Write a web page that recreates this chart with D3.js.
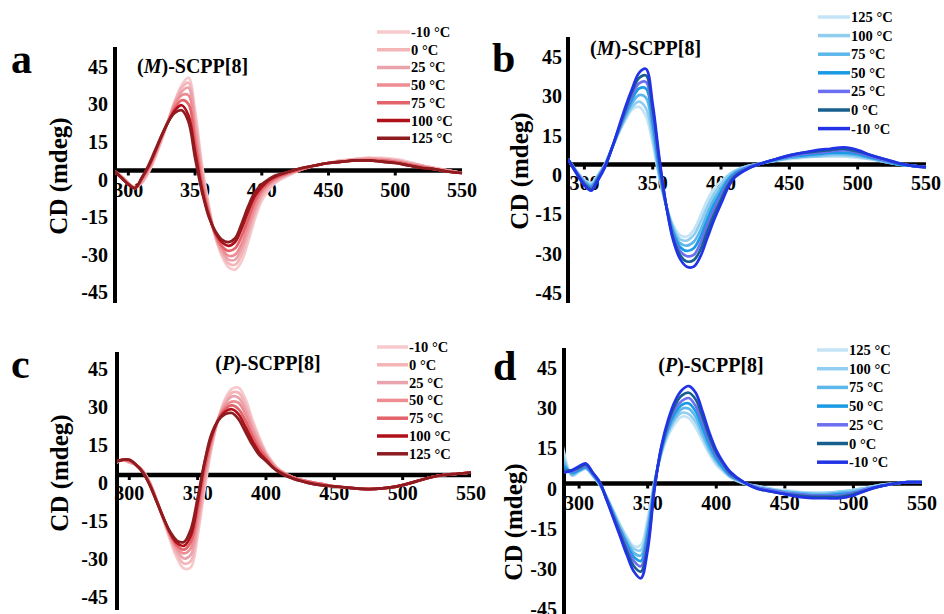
<!DOCTYPE html>
<html>
<head>
<meta charset="utf-8">
<script src="https://cdn.jsdelivr.net/npm/d3@7"></script>
<style>
  html, body { margin: 0; padding: 0; background: #fff; }
  svg { display: block; }
  text { font-family: "Liberation Serif", "Times New Roman", Times, "DejaVu Serif", serif; font-weight: bold; fill: #000; }
</style>
</head>
<body>
<svg id="fig" width="944" height="614"></svg>
<script>
// Wavelength grid (nm) shared by every spectrum
const wavelengths = [288, 295, 300, 305, 310, 315, 320, 325, 330, 335, 340, 345, 350, 355, 360, 365, 370, 375, 380, 385, 390, 395, 400, 405, 410, 420, 430, 440, 450, 460, 470, 480, 490, 500, 510, 520, 530, 540, 550];

const xTicks = [300, 350, 400, 450, 500, 550];
const yTicks = [45, 30, 15, 0, -15, -30, -45];

// Temperatures in legend order
const tempsUp = ["-10 °C", "0 °C", "25 °C", "50 °C", "75 °C", "100 °C", "125 °C"];
const tempsDown = ["125 °C", "100 °C", "75 °C", "50 °C", "25 °C", "0 °C", "-10 °C"];

const redColors = ["#f7c9cc", "#f4b5b8", "#e9a3ad", "#ee8c91", "#e3636a", "#b0101a", "#8c1c1f"];
const blueColors = ["#c4e4f6", "#90cdf0", "#5cb7ea", "#1a9ae4", "#6c6ff0", "#175f8e", "#2233e6"];

// (M)-SCPP[8], red set (CD in mdeg)
const a_neg10 = [0, -2.5, -5, -6.5, -5, -1, 5, 12, 20, 28, 34, 37, 24, 3, -13, -26, -34, -38.5, -39.5, -36, -28, -19, -12, -8, -5, -2, 0.5, 2, 3, 4, 4.5, 5, 5, 4.5, 3.5, 2, 1, 0, -1];
const a_0 = [0, -2.5, -5, -7, -5, -0.5, 5.5, 12.5, 20, 27.5, 33, 35, 21.5, 1, -14, -26, -33, -37, -37.5, -33.5, -25.5, -17, -10.5, -7, -4.5, -1.5, 0.5, 2, 3, 4, 4.5, 5, 4.5, 4, 3, 2, 1, 0, -1];
const a_25 = [0, -2.5, -5, -7, -4.5, 0, 6, 13, 20, 27, 31.5, 33, 18.5, -1, -15, -25.5, -32, -35.5, -35.5, -31, -23.5, -15.5, -9.5, -6, -4, -1.5, 0.5, 2, 3, 3.5, 4.5, 4.5, 4.5, 4, 3, 2, 0.5, 0, -1];
const a_50 = [0.5, -2.5, -5, -7, -4, 0.5, 6.5, 13.5, 20, 26.5, 30, 30, 15.5, -3, -16, -25.5, -31, -34, -33.5, -29, -21.5, -14, -8.5, -5.5, -3.5, -1, 0.5, 2, 3, 3.5, 4, 4.5, 4, 3.5, 2.5, 1.5, 0.5, 0, -1];
const a_75 = [0.5, -3, -5.5, -7, -3.5, 1, 7, 13.5, 19.5, 25, 28, 26.5, 11.5, -5, -16.5, -25, -30, -32, -31, -26, -19, -12, -7.5, -5, -3, -1, 0.5, 2, 3, 3.5, 4, 4, 4, 3.5, 2.5, 1.5, 0.5, -0.5, -1];
const a_100 = [0.5, -3, -5.5, -7, -3, 1.5, 7.5, 14, 19.5, 24, 26, 22, 7.5, -7, -17.5, -24.5, -28.5, -30, -28.5, -23, -16, -10, -6.5, -4, -2.5, -0.5, 1, 2, 3, 3.5, 4, 4, 3.5, 3, 2, 1, 0.5, -0.5, -1];
const a_125 = [0.5, -3, -5.5, -7, -3, 2, 8, 14, 19.5, 23, 24, 19.5, 5, -8, -18, -24, -27.5, -28.5, -27, -21, -14, -8.5, -5.5, -3.5, -2, -0.5, 1, 2, 3, 3.5, 4, 4, 3.5, 3, 2, 1, 0.5, -0.5, -1];

// (M)-SCPP[8], blue set
const b_neg10 = [2, -4, -8, -10, -6, -1, 6, 14, 22, 29, 35, 36.5, 23, 2, -16, -29, -36, -39, -39, -35, -28, -21, -15, -9, -5, -1.5, 0.5, 2, 3.5, 4.5, 5.5, 6, 6.5, 5.5, 3.5, 2, 0.5, -0.5, -1];
const b_0 = [2, -4, -7.5, -9.5, -5.5, -1, 6, 13.5, 21, 28, 33, 34, 21, 0.5, -16, -28, -34.5, -37, -36.5, -32.5, -25.5, -19, -13.5, -8, -4.5, -1.5, 0.5, 2, 3.5, 4.5, 5, 5.5, 6, 5, 3.5, 2, 0.5, -0.5, -1];
const b_25 = [2, -3.5, -7, -9, -5, -0.5, 6, 13, 20, 26.5, 31, 31.5, 18.5, -1, -16, -27, -33, -35, -34.5, -30, -23, -17, -12, -7, -4, -1, 0.5, 2, 3, 4, 4.5, 5, 5.5, 4.5, 3, 1.5, 0.5, -0.5, -1];
const b_50 = [2, -3.5, -7, -8.5, -5, -0.5, 6, 13, 19.5, 25, 29, 29, 16, -2.5, -16, -26, -31.5, -33, -32, -27.5, -21, -15, -10.5, -6, -3.5, -1, 0.5, 2, 3, 3.5, 4, 4.5, 4.5, 4, 2.5, 1.5, 0, -0.5, -1];
const b_75 = [2, -3.5, -6.5, -8, -4.5, 0, 6, 12.5, 18.5, 23.5, 26.5, 25.5, 13, -4, -16, -25, -30, -31, -29.5, -25, -18.5, -13, -9, -5.5, -3, -1, 0.5, 1.5, 2.5, 3, 3.5, 4, 4, 3.5, 2.5, 1, 0, -0.5, -1];
const b_100 = [2, -3, -6, -7.5, -4, 0, 6, 12, 17.5, 22, 24, 21.5, 10, -5, -16, -24, -28.5, -29, -27, -22, -16, -11, -7.5, -4.5, -2.5, -0.5, 0.5, 1.5, 2.5, 3, 3, 3.5, 3.5, 3, 2, 1, 0, -0.5, -1];
const b_125 = [2, -3, -6, -7, -4, 0, 6, 12, 17, 21, 22, 18.5, 8, -5.5, -16, -23, -27, -27.5, -25, -19.5, -13.5, -9, -6.5, -4, -2.5, -0.5, 0.5, 1.5, 2, 2.5, 3, 3, 3, 2.5, 2, 1, 0, -0.5, -1];

// (P)-SCPP[8], red set
const c_neg10 = [4, 6, 5, 4, 1.5, -3, -10, -18, -26, -33, -37, -36.5, -24, -6, 10, 22, 30, 34, 34.5, 30, 22, 15, 9, 5, 2, -1, -2.5, -3.5, -4.5, -5, -5.5, -5.5, -5, -4, -2.5, -1, 0, 0.5, 1];
const c_0 = [4, 6, 5, 4, 1.5, -3, -10, -17.5, -25, -31.5, -35, -34, -21.5, -4, 11, 22, 29, 32.5, 32.5, 28, 20.5, 14, 8.5, 4.5, 2, -1, -2.5, -3.5, -4.5, -5, -5.5, -5.5, -5, -4, -2.5, -1, 0, 0.5, 1];
const c_25 = [4, 6, 5, 4, 1.5, -3, -10, -17.5, -24.5, -30, -33, -31.5, -19, -2, 12, 22, 28, 31, 30.5, 26, 19, 13, 8, 4.5, 1.5, -1, -2.5, -3.5, -4.5, -5, -5.5, -5.5, -5, -4, -2.5, -1, 0, 0.5, 1];
const c_50 = [4.5, 6, 5.5, 4, 1.5, -3.5, -10, -17, -24, -29, -31, -29, -16.5, 0, 13, 22, 27, 29, 28.5, 24, 17.5, 12, 7.5, 4, 1.5, -1, -2.5, -3.5, -4.5, -5, -5.5, -5.5, -5, -4, -2.5, -1, 0, 0.5, 1];
const c_75 = [4.5, 6, 5.5, 4, 1, -3.5, -10, -17, -23.5, -28, -29.5, -26.5, -13.5, 2, 14, 22, 26, 27.5, 26, 21.5, 15.5, 10.5, 7, 3.5, 1.5, -1, -2.5, -3.5, -4.5, -5, -5.5, -5.5, -5, -4, -2.5, -1, 0, 0.5, 1];
const c_100 = [5, 6, 6, 4, 1, -4, -10.5, -17, -23, -27, -28, -24, -11, 4.5, 15, 21.5, 25, 26, 24, 19, 13.5, 9, 6, 3, 1, -1.5, -3, -4, -4.5, -5, -5.5, -5.5, -5, -4, -2.5, -1, 0, 0.5, 1];
const c_125 = [5, 6, 6, 4, 1, -4, -10.5, -17, -22.5, -26, -26.5, -21.5, -9, 5, 16, 21.5, 24, 24.5, 22, 17, 12, 8, 5.5, 3, 1, -1.5, -3, -4, -4.5, -5, -5.5, -5.5, -5, -4, -2.5, -1, 0, 0.5, 1];

// (P)-SCPP[8], blue set
const d_neg10 = [4, 5, 6.5, 7.5, 4, 0.5, -6, -13, -20, -27, -33, -35.5, -25, -2, 14, 24, 31, 35, 36.5, 34, 27, 19, 12.5, 8, 4.5, 0.5, -2, -3, -4, -5, -5.5, -5.5, -5.5, -4.5, -2.5, -1, 0, 0.5, 0.5];
const d_0 = [4.5, 5, 6, 7, 4, 0.5, -6, -12.5, -19, -25.5, -31, -33, -23, -1.5, 13.5, 23, 29.5, 33, 34, 31.5, 25, 17.5, 11.5, 7.5, 4, 0.5, -2, -3, -4, -4.5, -5, -5, -5, -4, -2.5, -1, 0, 0.5, 0.5];
const d_25 = [5, 4.5, 5.5, 6.5, 3.5, 0.5, -5.5, -12, -18, -24, -29, -31, -21, -1, 13, 22, 28, 31, 32, 29, 23, 16, 10.5, 7, 3.5, 0.5, -1.5, -2.5, -3.5, -4, -4.5, -4.5, -4.5, -3.5, -2, -1, 0, 0.5, 0.5];
const d_50 = [7, 4, 5, 6, 3.5, 0, -5.5, -11.5, -17.5, -23, -27.5, -29, -19, -0.5, 12.5, 21, 26.5, 29.5, 30, 27, 21, 14.5, 9.5, 6, 3, 0.5, -1.5, -2.5, -3.5, -4, -4.5, -4.5, -4, -3.5, -2, -1, 0, 0.5, 0.5];
const d_75 = [9, 3.5, 5, 6, 3, 0, -5, -11, -17, -22, -26, -27, -17, 0, 12, 20, 25, 28, 28, 25, 19, 13, 8.5, 5.5, 3, 0.5, -1.5, -2.5, -3, -3.5, -4, -4, -3.5, -3, -2, -1, 0, 0.5, 0.5];
const d_100 = [11, 3, 4.5, 5.5, 3, -0.5, -5, -10.5, -16, -21, -24.5, -25, -15, 0.5, 11.5, 19, 24, 26.5, 26, 23, 17.5, 12, 8, 5, 2.5, 0, -1, -2, -3, -3.5, -3.5, -3.5, -3, -2.5, -1.5, -0.5, 0, 0.5, 0.5];
const d_125 = [14, 3, 4.5, 5.5, 3, -0.5, -5, -10, -15.5, -20, -23.5, -23, -13, 1, 11, 18, 22.5, 25, 24.5, 21, 16, 11, 7, 4.5, 2.5, 0, -1, -2, -2.5, -3, -3.5, -3.5, -3, -2.5, -1.5, -0.5, 0, 0.5, 0.5];

// Panel layout; series listed in legend order (also the drawing order)
const panels = [
  { letter: "a", enant: "M", labels: tempsUp, colors: redColors,
    series: [a_neg10, a_0, a_25, a_50, a_75, a_100, a_125],
    w0: 290, x0: 115, x1: 462, zeroY: 170.5, ppu: 2.51, top: 47, bottom: 303,
    yLabRight: 108, yLabDy: 9, xLabBase: 197,
    title: { x: 137, y: 73, anchor: "start" }, ylab: { x: 58, y: 176 },
    let: { x: 11, y: 73 }, leg: { x: 377, y: 32, dy: 17.7, len: 33 } },
  { letter: "b", enant: "M", labels: tempsDown, colors: blueColors,
    series: [b_125, b_100, b_75, b_50, b_25, b_0, b_neg10],
    w0: 288, x0: 568, x1: 926, zeroY: 164.5, ppu: 2.62, top: 37, bottom: 303,
    yLabRight: 562, yLabDy: 10.5, xLabBase: 190,
    title: { x: 590, y: 55, anchor: "start" }, ylab: { x: 519, y: 171 },
    let: { x: 492, y: 72 }, leg: { x: 818, y: 17, dy: 18.6, len: 32 } },
  { letter: "c", enant: "P", labels: tempsUp, colors: redColors,
    series: [c_neg10, c_0, c_25, c_50, c_75, c_100, c_125],
    w0: 291, x0: 117, x1: 471, zeroY: 475, ppu: 2.53, top: 352, bottom: 610,
    yLabRight: 108, yLabDy: 8, xLabBase: 500,
    title: { x: 268, y: 370, anchor: "middle" }, ylab: { x: 59, y: 473 },
    let: { x: 11, y: 378 }, leg: { x: 377, y: 347, dy: 17.8, len: 31 } },
  { letter: "d", enant: "P", labels: tempsDown, colors: blueColors,
    series: [d_125, d_100, d_75, d_50, d_25, d_0, d_neg10],
    w0: 289, x0: 564, x1: 922, zeroY: 483.5, ppu: 2.67, top: 348, bottom: 614,
    yLabRight: 557, yLabDy: 5, xLabBase: 510,
    title: { x: 711, y: 372, anchor: "middle" }, ylab: { x: 513, y: 522 },
    let: { x: 493, y: 380 }, leg: { x: 817, y: 350, dy: 18.7, len: 31 } }
];

const svg = d3.select("#fig");
const defs = svg.append("defs");

panels.forEach((p, i) => {
  const x = d3.scaleLinear().domain([p.w0, 550]).range([p.x0, p.x1]);
  const y = d3.scaleLinear().domain([-45, 45]).range([p.zeroY + 45 * p.ppu, p.zeroY - 45 * p.ppu]);
  const g = svg.append("g");

  // panel letter
  g.append("text").attr("x", p.let.x).attr("y", p.let.y)
    .style("font-size", "42px").text(p.letter);

  // title
  const t = g.append("text").attr("x", p.title.x).attr("y", p.title.y)
    .attr("text-anchor", p.title.anchor).style("font-size", "20px");
  t.append("tspan").text("(");
  t.append("tspan").style("font-style", "italic").text(p.enant);
  t.append("tspan").text(")-SCPP[8]");

  // y axis title
  g.append("text")
    .attr("transform", `translate(${p.ylab.x},${p.ylab.y}) rotate(-90)`)
    .attr("text-anchor", "middle").attr("dy", "0.35em")
    .style("font-size", "25px").text("CD (mdeg)");

  // y tick labels
  g.selectAll(".yt").data(yTicks).join("text")
    .attr("x", p.yLabRight).attr("y", d => y(d) + p.yLabDy)
    .attr("dy", "0.35em").attr("text-anchor", "end")
    .style("font-size", "20px").text(d => d);

  // x tick labels
  g.selectAll(".xt").data(xTicks).join("text")
    .attr("x", d => x(d)).attr("y", p.xLabBase)
    .attr("text-anchor", "middle").style("font-size", "20px").text(d => d);

  // zero line with small ticks, and the vertical axis
  g.append("line").attr("x1", p.x0).attr("x2", p.x1)
    .attr("y1", y(0)).attr("y2", y(0))
    .attr("stroke", "#000").attr("stroke-width", 4.5);
  g.selectAll(".tk").data(xTicks.slice(0, 5)).join("line")
    .attr("x1", d => x(d)).attr("x2", d => x(d))
    .attr("y1", y(0)).attr("y2", y(0) + 5)
    .attr("stroke", "#000").attr("stroke-width", 3);
  g.append("line").attr("x1", p.x0).attr("x2", p.x0)
    .attr("y1", p.top).attr("y2", p.bottom)
    .attr("stroke", "#000").attr("stroke-width", 4);

  // spectra
  const clipId = "clip" + i;
  defs.append("clipPath").attr("id", clipId).append("rect")
    .attr("x", p.x0).attr("y", p.top).attr("width", p.x1 - p.x0 + 2).attr("height", p.bottom - p.top);
  const line = d3.line()
    .x((d, k) => x(wavelengths[k]))
    .y(d => y(d))
    .curve(d3.curveCatmullRom.alpha(0.5));
  g.append("g").attr("clip-path", `url(#${clipId})`)
    .selectAll("path").data(p.series).join("path")
    .attr("d", line)
    .attr("fill", "none")
    .attr("stroke", (d, k) => p.colors[k])
    .attr("stroke-width", 2.7)
    .attr("stroke-linejoin", "round");

  // legend
  const lg = g.append("g");
  p.labels.forEach((lab, k) => {
    const yy = p.leg.y + k * p.leg.dy;
    lg.append("line").attr("x1", p.leg.x).attr("x2", p.leg.x + p.leg.len)
      .attr("y1", yy).attr("y2", yy)
      .attr("stroke", p.colors[k]).attr("stroke-width", 3.5);
    lg.append("text").attr("x", p.leg.x + p.leg.len + 1).attr("y", yy)
      .attr("dy", "0.35em").style("font-size", "14.5px").text(lab);
  });
});
</script>
</body>
</html>
